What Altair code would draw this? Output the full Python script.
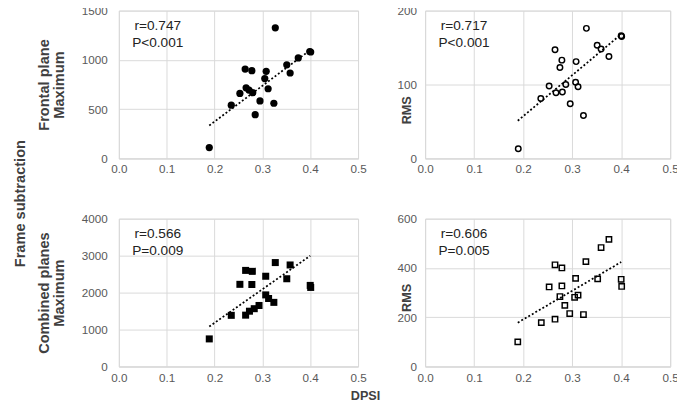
import altair as alt
import pandas as pd

# ---- data ----
x_ticks = [0.0, 0.1, 0.2, 0.3, 0.4, 0.5]

# Frontal plane, Maximum
fmax_x = [0.189, 0.235, 0.253, 0.264, 0.266, 0.272, 0.278, 0.280, 0.285, 0.295,
          0.305, 0.308, 0.312, 0.324, 0.327, 0.351, 0.358, 0.375, 0.399, 0.401]
fmax_y = [110, 540, 660, 907, 717, 694, 890, 667, 444, 584,
          810, 884, 707, 560, 1325, 950, 867, 1020, 1085, 1080]

# Frontal plane, RMS
frms_x = [0.190, 0.236, 0.253, 0.265, 0.267, 0.275, 0.279, 0.280, 0.287, 0.296,
          0.307, 0.308, 0.312, 0.323, 0.329, 0.351, 0.359, 0.375, 0.400, 0.401]
frms_y = [13, 81, 98, 147, 89, 123, 133, 90, 100, 74,
          103, 131, 97, 58, 176, 153, 148, 138, 166, 165]

# Combined planes, Maximum
cmax_x = [0.189, 0.235, 0.253, 0.265, 0.265, 0.273, 0.278, 0.279, 0.283, 0.293,
          0.307, 0.307, 0.313, 0.324, 0.327, 0.351, 0.358, 0.400, 0.401]
cmax_y = [747, 1385, 2224, 2601, 1390, 1497, 2220, 2575, 1565, 1652,
          1938, 2443, 1840, 1736, 2813, 2375, 2748, 2195, 2140]

# Combined planes, RMS
crms_x = [0.189, 0.237, 0.253, 0.265, 0.265, 0.275, 0.279, 0.279, 0.285, 0.295,
          0.305, 0.307, 0.312, 0.323, 0.328, 0.352, 0.359, 0.375, 0.400, 0.401]
crms_y = [100, 178, 323, 413, 192, 284, 400, 327, 248, 215,
          281, 358, 290, 211, 426, 356, 483, 516, 354, 325]

# dotted trend lines (end points)
trend_x = [0.189, 0.400]
fmax_trend = [334, 1100]
frms_trend = [51, 168]
cmax_trend = [1082, 2997]
crms_trend = [178, 424]

r_labels = ["r=0.747", "r=0.717", "r=0.566", "r=0.606"]
p_labels = ["P<0.001", "P<0.001", "P=0.009", "P=0.005"]
y_titles = [["Frontal plane", "Maximum"], "RMS", ["Combined planes", "Maximum"], "RMS"]
y_ticks = [[0, 500, 1000, 1500], [0, 100, 200], [0, 1000, 2000, 3000, 4000], [0, 200, 400, 600]]

FONT = "Liberation Sans"
TITLE_C = "#404040"


def panel(xs, ys, ty, ytitle, yt, shape, filled, size, r_lab, p_lab, width, left, title_y=None):
    df = pd.DataFrame({"DPSI": xs, "val": ys})
    tdf = pd.DataFrame({"DPSI": trend_x, "val": ty})
    xenc = alt.X("DPSI:Q", scale=alt.Scale(domain=[0, 0.5], nice=False, zero=False, padding=0),
                 axis=alt.Axis(values=x_ticks, format=".1f", title=None, labelFlush=False))
    if left:
        yaxis = alt.Axis(values=yt, title=ytitle, format="d", titleX=-72, titleBaseline="alphabetic",
                         titleFontSize=15, titleLineHeight=15, labelPadding=12, labelFlush=False)
    else:
        yaxis = alt.Axis(values=yt, title=ytitle, format="d", titleX=-15, titleY=title_y,
                         titleBaseline="alphabetic", titleFontSize=13, labelPadding=9,
                         labelFlush=False)
    yenc = alt.Y("val:Q", scale=alt.Scale(domain=[yt[0], yt[-1]], nice=False, padding=0), axis=yaxis)
    pts = alt.Chart(df).mark_point(
        shape=shape, filled=filled, size=size, color="black",
        strokeWidth=1.5, opacity=1
    ).encode(x=xenc, y=yenc)
    trend = alt.Chart(tdf).mark_line(
        color="black", strokeDash=[2, 2.2], strokeWidth=1.8
    ).encode(x=xenc, y=yenc)
    lab = pd.DataFrame({"r": [r_lab], "p": [p_lab]})
    t1 = alt.Chart(lab).mark_text(font=FONT, fontSize=14, color="#222222", align="center",
                                  baseline="middle").encode(
        x=alt.value(40), y=alt.value(15.7), text="r:N")
    t2 = alt.Chart(lab).mark_text(font=FONT, fontSize=14, color="#222222", align="center",
                                  baseline="middle").encode(
        x=alt.value(40), y=alt.value(33.3), text="p:N")
    return alt.layer(trend, pts, t1, t2).properties(width=width, height=152)


tl = panel(fmax_x, fmax_y, fmax_trend, y_titles[0], y_ticks[0], "circle", True, 55, r_labels[0], p_labels[0], 246, True)
tr = panel(frms_x, frms_y, frms_trend, y_titles[1], y_ticks[1], "circle", False, 32, r_labels[1], p_labels[1], 252, False, 102)
bl = panel(cmax_x, cmax_y, cmax_trend, y_titles[2], y_ticks[2], "square", True, 52, r_labels[2], p_labels[2], 246, True)
br = panel(crms_x, crms_y, crms_trend, y_titles[3], y_ticks[3], "square", False, 30, r_labels[3], p_labels[3], 252, False, 81)

row1 = alt.hconcat(tl, tr, spacing=30)
row2 = alt.hconcat(bl, br, spacing=30)

grid = alt.vconcat(row1, row2, spacing=37).properties(
    title=alt.TitleParams("DPSI", orient="bottom", anchor="middle", fontSize=13,
                          font=FONT, fontWeight="bold", color=TITLE_C, offset=7, dx=8)
)

chart = alt.vconcat(grid).properties(
    title=alt.TitleParams("Frame subtraction", orient="left", anchor="middle", fontSize=15,
                          font=FONT, fontWeight="bold", color=TITLE_C, offset=-4, dy=-13),
    padding={"left": 5, "top": -10, "right": -2, "bottom": 0},
).configure_view(stroke="#d9d9d9").configure_axis(
    labelFont=FONT, labelFontSize=12, labelColor="#595959",
    gridColor="#d9d9d9", gridWidth=1, domainColor="#d9d9d9", ticks=False,
    titleFont=FONT, titleFontSize=14, titleFontWeight="bold", titleColor=TITLE_C,
).configure_axisY(domain=False).configure_axisX(labelPadding=6)

chart.save("out.html", embed_options={"renderer": "svg", "actions": False})
